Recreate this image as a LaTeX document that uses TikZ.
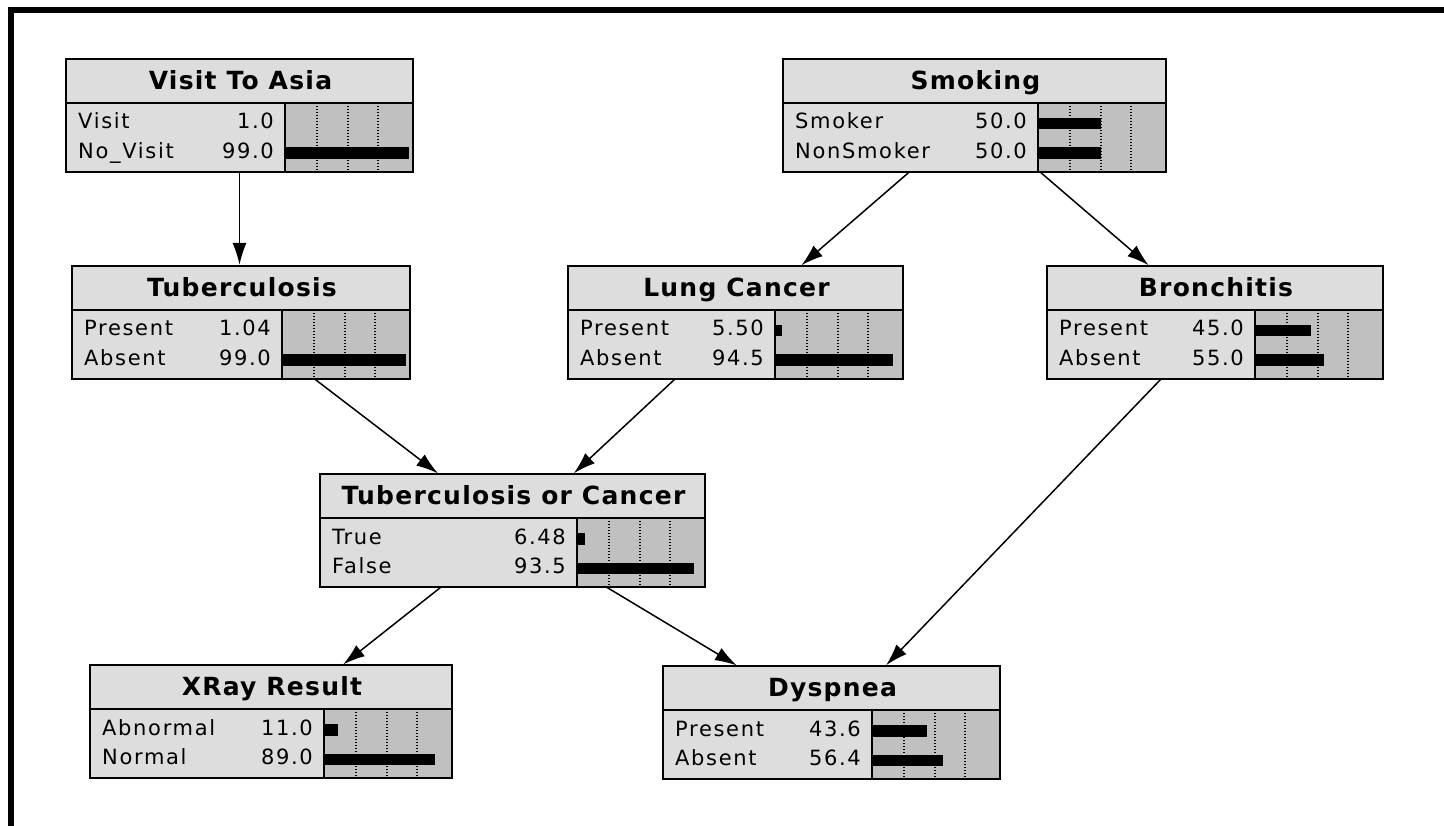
\documentclass[tikz,border=0pt]{standalone}
\usepackage{fontspec}
\usetikzlibrary{calc,arrows.meta}
\newfontfamily\ttlfont{DejaVu Sans}[LetterSpace=5]
\newfontfamily\rowfont{DejaVu Sans}[LetterSpace=8]
\definecolor{paneL}{RGB}{221,221,221}
\definecolor{paneB}{RGB}{192,192,192}
\tikzset{
  netbox/.style={draw=black, line width=2pt, fill=paneL, minimum height=113pt,
    inner sep=0pt, outer sep=0pt, anchor=north west},
  ttl/.style={font=\ttlfont\bfseries\fontsize{25}{25}\selectfont, anchor=base, inner sep=0pt},
  rowlbl/.style={font=\rowfont\fontsize{21}{21}\selectfont, anchor=base west, inner sep=0pt},
  rowval/.style={font=\rowfont\fontsize{21}{21}\selectfont, anchor=base east, inner sep=0pt},
  barpane/.style={fill=paneB},
  gridline/.style={line width=1.2pt, dash pattern=on 1.2pt off 1.8pt},
  barfill/.style={fill=black},
  seprule/.style={line width=2pt},
  boxline/.style={line width=2pt},
  link/.style={line width=1.5pt, -{Latex[length=22pt,width=14pt]}, shorten >=1pt},
  frameband/.style={fill=black}
}
% name, L, T, R, title
\newcommand\netnode[5]{%
  \node[netbox, minimum width=#4pt-#2pt] (#1) at (#2,#3) {};
  \fill[barpane] ($(#1.south east)+(-128,0)$) rectangle ($(#1.north east)+(0,44)$);
  \foreach \g in {32,63,93}
    \draw[gridline] ($(#1.north east)+(-128+\g,44)$) -- ($(#1.south east)+(-128+\g,0)$);
  \node[ttl] (#1-ttl) at ($(#1.north)+(1,30.5)$) {#5};
}
% name, tag, offset, label, value, pct
\newcommand\netrow[6]{%
  \fill[barfill] ($(#1.north east)+(-128,59+#3)$) rectangle ($(#1.north east)+(-128+1.25*#6,70.5+#3)$);
  \node[rowlbl] (#1-l#2) at ($(#1.north west)+(12,70+#3)$) {#4};
  \node[rowval] (#1-v#2) at ($(#1.north east)+(-139,70+#3)$) {#5};
}
\newcommand\netclose[1]{%
  \draw[seprule] ($(#1.north west)+(0,44)$) -- ($(#1.north east)+(0,44)$);
  \draw[seprule] ($(#1.north east)+(-128,44)$) -- ($(#1.south east)+(-128,0)$);
  \draw[boxline] (#1.north west) rectangle (#1.south east);
}
\begin{document}
\begin{tikzpicture}[x=1pt,y=-1pt]
\useasboundingbox (0,0) rectangle (1444,826);
\fill[white] (0,0) rectangle (1444,826);
\fill[frameband] (8,7) rectangle (1444,13);
\fill[frameband] (8,7) rectangle (13.5,826);

\netnode{visit}{66}{59}{413}{Visit To Asia}
\netrow{visit}{1}{0}{Visit}{1.0}{1.0}
\netrow{visit}{2}{29.5}{No\_Visit}{99.0}{99.0}
\netclose{visit}

\netnode{smoke}{783}{59}{1166}{Smoking}
\netrow{smoke}{1}{0}{Smoker}{50.0}{50.0}
\netrow{smoke}{2}{29.5}{NonSmoker}{50.0}{50.0}
\netclose{smoke}

\netnode{tb}{72}{266}{410}{Tuberculosis}
\netrow{tb}{1}{0}{Present}{1.04}{1.04}
\netrow{tb}{2}{29.5}{Absent}{99.0}{99.0}
\netclose{tb}

\netnode{lung}{568}{266}{903}{Lung Cancer}
\netrow{lung}{1}{0}{Present}{5.50}{5.50}
\netrow{lung}{2}{29.5}{Absent}{94.5}{94.5}
\netclose{lung}

\netnode{bronc}{1047}{266}{1383}{Bronchitis}
\netrow{bronc}{1}{0}{Present}{45.0}{45.0}
\netrow{bronc}{2}{29.5}{Absent}{55.0}{55.0}
\netclose{bronc}

\netnode{toc}{320}{474}{705}{Tuberculosis or Cancer}
\netrow{toc}{1}{0}{True}{6.48}{6.48}
\netrow{toc}{2}{29.5}{False}{93.5}{93.5}
\netclose{toc}

\netnode{xray}{90}{665}{452}{XRay Result}
\netrow{xray}{1}{0}{Abnormal}{11.0}{11.0}
\netrow{xray}{2}{29.5}{Normal}{89.0}{89.0}
\netclose{xray}

\netnode{dysp}{663}{666}{1000}{Dyspnea}
\netrow{dysp}{1}{0}{Present}{43.6}{43.6}
\netrow{dysp}{2}{29.5}{Absent}{56.4}{56.4}
\netclose{dysp}

\draw[link] (visit.south) -- (visit.south |- tb.north);
\draw[link] (smoke) -- (lung);
\draw[link] (smoke) -- (bronc);
\draw[link] (tb) -- (toc);
\draw[link] (lung) -- (toc);
\draw[link] (toc) -- (xray);
\draw[link] (toc) -- (dysp);
\draw[link] (bronc) -- (dysp);
\end{tikzpicture}
\end{document}
